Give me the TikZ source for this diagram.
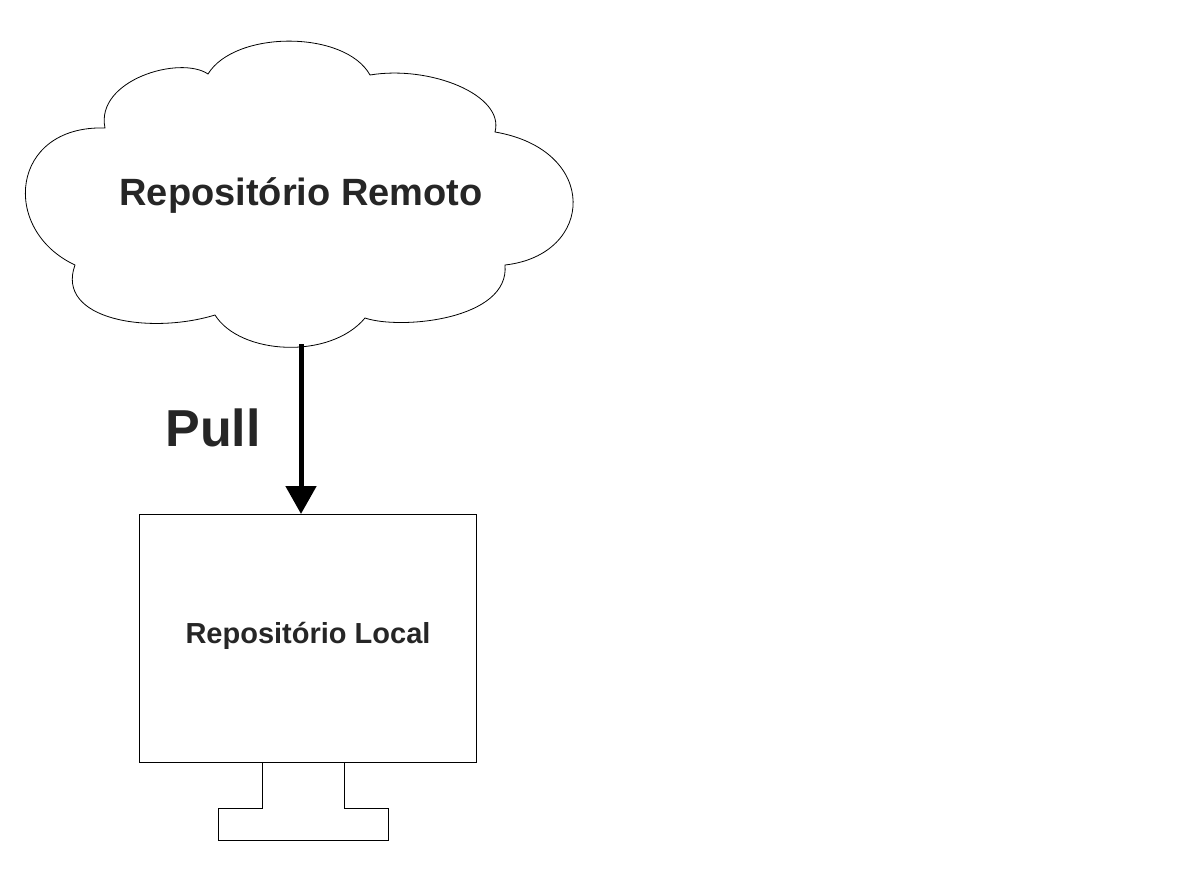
\documentclass[tikz,border=0pt]{standalone}
\usepackage{fontspec}
\setmainfont{Liberation Sans}
\usetikzlibrary{arrows.meta}
\begin{document}
\begin{tikzpicture}[x=1pt,y=-1pt,line width=0.8pt,
  lbl/.style={font=\bfseries, text=black!85}]
\useasboundingbox (0,0) rectangle (1197,896);
\draw (105,128) .. controls (95,80) and (180,55) .. (208,74)
  .. controls (235,30) and (345,30) .. (370,75)
  .. controls (430,65) and (505,95) .. (495,132)
  .. controls (600,150) and (595,255) .. (505,265)
  .. controls (510,320) and (400,330) .. (365,318)
  .. controls (330,360) and (240,355) .. (215,315)
  .. controls (150,335) and (55,320) .. (75,265)
  .. controls (0,230) and (10,125) .. (105,128) -- cycle;
\node[lbl,font=\fontsize{38}{40}\bfseries\selectfont] (remote) at (301,196) {Repositório Remoto};
\coordinate (cloudbot) at (301,344);
\node[draw,minimum width=337pt,minimum height=248pt,inner sep=0pt] (local) at (307.5,638) {};
\node[lbl,font=\fontsize{29}{31}\bfseries\selectfont] (localtxt) at (308,636) {Repositório Local};
\draw[line width=5pt,-{Triangle[length=28pt,width=30pt]}] (cloudbot) -- (301,514);
\node[lbl,font=\fontsize{52}{54}\bfseries\selectfont] (pull) at (213,428) {Pull};
\draw (262,762) -- (262,808) -- (218,808) -- (218,840) -- (388,840) -- (388,808) -- (344,808) -- (344,762);
\end{tikzpicture}
\end{document}
